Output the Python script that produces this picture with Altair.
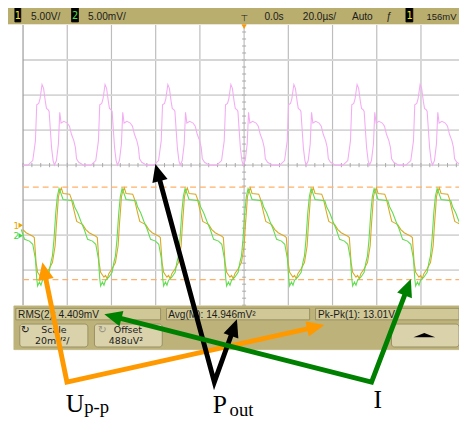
import math
import altair as alt
import pandas as pd

# ---------------- oscilloscope screen: time in µs (20 µs/div), amplitude in divisions ----------------
grid_time = [-80, -60, -40, -20, 0, 20, 40, 60, 80]
grid_level = [-3, -2, -1, 0, 1, 2, 3]
minor_time = [-100 + 4 * i for i in range(51)]
minor_level = [-4 + 0.2 * i for i in range(41)]
cursor_levels = [-0.63, -3.27]

# Math (pink) trace: one pulse pair, time relative to its main peak
pink_dt = [-6.4, -4.2, -3.0, -2.4, -1.5, -0.9, 0.0, 0.7, 1.5, 2.0, 2.8, 3.2, 3.7, 4.3, 5.0,
           5.6, 6.5, 7.4, 8.0, 8.6, 9.9, 11.4, 12.4, 13.3, 14.4, 15.1, 15.6, 16.6, 18.8]
pink_val = [0.0, 0.13, 0.69, 1.72, 1.76, 1.90, 2.30, 2.19, 1.81, 1.62, 1.58, 1.53, 1.06, 0.50, 0.13,
            0.0, 0.13, 0.60, 1.51, 1.20, 1.25, 1.20, 1.11, 0.88, 0.69, 0.50, 0.18, 0.08, 0.0]
pink_peaks = [-119.9, -91.4, -62.9, -34.5, -6.0, 22.5, 51.1, 79.6]
pink_edges_t = [-100.0, 100.5]
pink_edges_v = [0.0, 0.0]

# Channel 2 (green) trace, time relative to its peak
green_dt = [0.0, 0.6, 1.8, 6.2, 7.0, 8.4, 9.9, 11.4, 12.9, 15.1, 16.6, 17.8, 18.4, 18.8, 19.6,
            20.3, 21.0, 22.5, 24.0, 24.8, 25.5, 26.2, 27.0, 27.7]
green_val = [-0.67, -0.76, -0.98, -1.02, -1.19, -1.36, -1.61, -1.84, -2.12, -2.17, -2.26, -2.68,
             -3.24, -3.45, -3.34, -3.43, -3.29, -3.20, -3.06, -2.78, -2.59, -2.12, -1.36, -0.90]
green_peaks = [-112.2, -83.7, -55.2, -26.7, 1.8, 30.3, 58.8, 87.3]

# Channel 1 (orange) trace, time relative to the green peak
orange_dt = [0.2, 1.0, 1.8, 4.8, 5.5, 7.0, 8.0, 9.2, 10.7, 12.1, 13.6, 16.6, 17.3, 18.1, 18.8,
             20.3, 21.0, 21.8, 22.5, 24.0, 25.5, 26.7, 27.3, 27.8, 28.2]
orange_val = [-0.77, -0.65, -0.81, -0.83, -0.95, -1.36, -1.61, -1.65, -1.70, -1.84, -1.93, -2.03,
              -2.07, -2.78, -3.06, -3.20, -3.15, -3.24, -3.10, -2.96, -2.78, -2.31, -1.70, -1.28, -0.91]


def periodic(peaks, dts, vals, extra_t=(), extra_v=()):
    pts = [(t, v) for t, v in zip(extra_t, extra_v)]
    for p in peaks:
        for dt, v in zip(dts, vals):
            t = p + dt
            if -101 <= t <= 101:
                pts.append((t, v))
    pts.sort()
    return pd.DataFrame({"t": [p[0] for p in pts], "v": [p[1] for p in pts], "i": range(len(pts))})


pink_df = periodic(pink_peaks, pink_dt, pink_val, pink_edges_t, pink_edges_v)
green_df = periodic(green_peaks, green_dt, green_val)
orange_df = periodic(green_peaks, orange_dt, orange_val)

sx = alt.Scale(domain=[-100, 100], range=[23.3, 473.3], nice=False, zero=False)
sy = alt.Scale(domain=[-4, 4], range=[306.8, 21.6], nice=False, zero=False)


def SX(f):
    return alt.X(f, type="quantitative", scale=sx, axis=None)


def SY(f):
    return alt.Y(f, type="quantitative", scale=sy, axis=None)


vgrid = alt.Chart(pd.DataFrame({"t": grid_time, "a": -4, "b": 4})).mark_rule(
    color="#bdbdbd", strokeWidth=1.2).encode(x=SX("t"), y=SY("a"), y2="b")
hgrid = alt.Chart(pd.DataFrame({"v": grid_level, "a": -100, "b": 103})).mark_rule(
    color="#d6d6d6", strokeWidth=1.8).encode(y=SY("v"), x=SX("a"), x2="b")
border = alt.Chart(pd.DataFrame({"t": [-100], "a": -4, "b": 4})).mark_rule(
    color="#9a9a9a", strokeWidth=1.2).encode(x=SX("t"), y=SY("a"), y2="b")
hticks = alt.Chart(pd.DataFrame({"t": minor_time, "a": -0.06, "b": 0.06})).mark_rule(
    color="#a8a8a8", strokeWidth=1).encode(x=SX("t"), y=SY("a"), y2="b")
vticks = alt.Chart(pd.DataFrame({"v": minor_level, "a": -0.9, "b": 0.9})).mark_rule(
    color="#a8a8a8", strokeWidth=1).encode(y=SY("v"), x=SX("a"), x2="b")
cursors = alt.Chart(pd.DataFrame({"v": cursor_levels, "a": -100, "b": 103})).mark_rule(
    color="#ffb066", strokeWidth=1.2, strokeDash=[6, 4]).encode(y=SY("v"), x=SX("a"), x2="b")

pink = alt.Chart(pink_df).mark_line(color="#f3aef3", strokeWidth=1.1).encode(
    x=SX("t"), y=SY("v"), order="i:Q")
orange = alt.Chart(orange_df).mark_line(color="#dba824", strokeWidth=1.1).encode(
    x=SX("t"), y=SY("v"), order="i:Q")
green = alt.Chart(green_df).mark_line(color="#62dc50", strokeWidth=1.1).encode(
    x=SX("t"), y=SY("v"), order="i:Q")

scope = alt.layer(vgrid, hgrid, hticks, vticks, border, cursors, pink, orange, green)

# ---------------- screen chrome and annotations (screen pixels) ----------------
px = alt.Scale(domain=[0, 467], range=[0, 467], nice=False, zero=False)
py = alt.Scale(domain=[0, 423], range=[0, 423], nice=False, zero=False)


def PX(f):
    return alt.X(f, type="quantitative", scale=px, axis=None)


def PY(f):
    return alt.Y(f, type="quantitative", scale=py, axis=None)


panel_x = [0, 14, 16, 169.3, 321, 15, 72.7, 413, 428.3]
panel_x2 = [467, 467, 163.3, 315, 467, 21, 79.7, 420, 435]
panel_y = [0, 307.5, 310, 310, 310, 2, 2, 2, 339.3]
panel_y2 = [20.5, 352, 321.7, 321.7, 321.7, 18.5, 18.5, 18.5, 342]
panel_fill = ["#b9ae6e", "#bdb37a", "#d0c896", "#d0c896", "#d0c896", "#000000", "#000000", "#000000", "#000000"]
panel_stroke = ["#b9ae6e", "#bdb37a", "#8c855a", "#8c855a", "#8c855a", "#000000", "#000000", "#000000", "#000000"]

button_x = [20, 96, 398.3]
button_x2 = [89.3, 165, 467]
button_y = [326, 326, 326]
button_y2 = [349.3, 349.3, 349.3]

panels = alt.Chart(pd.DataFrame({"x": panel_x, "x2": panel_x2, "y": panel_y, "y2": panel_y2,
                                 "f": panel_fill, "s": panel_stroke})).mark_rect(strokeWidth=0.8).encode(
    x=PX("x"), x2="x2", y=PY("y"), y2="y2",
    fill=alt.Fill("f:N", scale=None), stroke=alt.Stroke("s:N", scale=None))
buttons = alt.Chart(pd.DataFrame({"x": button_x, "x2": button_x2, "y": button_y, "y2": button_y2})).mark_rect(
    fill="#d9d2ab", stroke="#8c855a", strokeWidth=0.8, cornerRadius=3).encode(
    x=PX("x"), x2="x2", y=PY("y"), y2="y2")

sans_left_text = ["5.00V/", "5.00mV/", "0.0s", "20.0µs/", "Auto", "ƒ", "156mV",
                  "RMS(2): 4.409mV", "Avg(M): 14.946mV²", "Pk-Pk(1): 13.01V"]
sans_left_x = [31.5, 89.5, 269, 308, 358, 393, 434, 18.3, 171, 323.5]
sans_left_y = [17, 17, 17, 17, 17, 17, 17, 319.5, 319.5, 319.5]
sans_left_s = [10.3, 10.3, 10.3, 10.3, 10.3, 10.3, 9.6, 10.3, 10.3, 10.3]
sans_left = alt.Chart(pd.DataFrame({"x": sans_left_x, "y": sans_left_y, "t": sans_left_text,
                                    "s": sans_left_s})).mark_text(
    align="left", baseline="alphabetic", font="Liberation Sans", color="#1c1c1c").encode(
    x=PX("x"), y=PY("y"), text="t:N", size=alt.Size("s:Q", scale=None))

sans_center_text = ["Scale", "20mV²/", "Offset", "488uV²", "↻", "↻", "1", "2", "1", "⊤", "1", "2"]
sans_center_x = [54.7, 53, 130, 128, 25.5, 104, 18, 76.2, 416.7, 248.5, 16.5, 16.5]
sans_center_y = [335.5, 346, 335.5, 346, 335.5, 335.5, 15.5, 15.5, 15.5, 18, 229, 239.5]
sans_center_c = ["#1c1c1c", "#1c1c1c", "#1c1c1c", "#1c1c1c", "#1c1c1c", "#9a9580", "#f2e21e", "#46e046",
                 "#f2e21e", "#1c1c1c", "#e8a800", "#3ed83e"]
sans_center_s = [9.6, 9.6, 9.6, 9.6, 11, 11, 10, 10, 10, 9, 9, 9]
sans_center = alt.Chart(pd.DataFrame({"x": sans_center_x, "y": sans_center_y, "t": sans_center_text,
                                      "c": sans_center_c, "s": sans_center_s})).mark_text(
    align="center", baseline="alphabetic", font="DejaVu Sans").encode(
    x=PX("x"), y=PY("y"), text="t:N", color=alt.Color("c:N", scale=None), size=alt.Size("s:Q", scale=None))

marker_x = [248.3, 21, 21]
marker_y = [23.5, 225.5, 236]
marker_c = ["#ff9900", "#e8a800", "#3ed83e"]
marker_shape = ["triangle-down", "triangle-right", "triangle-right"]
markers = alt.Chart(pd.DataFrame({"x": marker_x, "y": marker_y, "c": marker_c, "sh": marker_shape})).mark_point(
    filled=True, size=28, opacity=1).encode(
    x=PX("x"), y=PY("y"), color=alt.Color("c:N", scale=None), shape=alt.Shape("sh:N", scale=None))

up_icon = alt.Chart(pd.DataFrame({"x": [431.7], "y": [337.2]})).mark_point(
    filled=True, opacity=1, color="#000000", size=484, shape="M0,-0.2L1,0.2L-1,0.2Z").encode(
    x=PX("x"), y=PY("y"))

# arrows: vertex near label, two tips each
arrow_color = ["#ff9900", "#000000", "#008000"]
vertex_x = [68, 218, 378]
vertex_y = [385, 385, 385]
tip_a_x = [43, 158, 418]
tip_a_y = [263, 163, 280]
tip_b_x = [330, 241, 106]
tip_b_y = [327, 321, 316]

line_rows, head_rows = [], []
for k in range(3):
    vx, vy = vertex_x[k], vertex_y[k]
    pts = []
    for tx, ty in ((tip_a_x[k], tip_a_y[k]), (tip_b_x[k], tip_b_y[k])):
        dx, dy = tx - vx, ty - vy
        L = math.hypot(dx, dy)
        ux, uy = dx / L, dy / L
        pts.append((tx - 12 * ux, ty - 12 * uy))
        ang = math.degrees(math.atan2(dx, -dy)) % 360
        head_rows.append({"x": tx, "y": ty, "a": ang, "c": arrow_color[k]})
    for j, (x, y) in enumerate([pts[0], (vx, vy), pts[1]]):
        line_rows.append({"x": x, "y": y, "o": j, "g": k, "c": arrow_color[k]})

arrow_lines = alt.Chart(pd.DataFrame(line_rows)).mark_line(strokeWidth=5, strokeJoin="miter").encode(
    x=PX("x"), y=PY("y"), order="o:Q", detail="g:N", color=alt.Color("c:N", scale=None))
arrow_heads = alt.Chart(pd.DataFrame(head_rows)).mark_point(
    filled=True, opacity=1, size=400, shape="M0,0L0.8,1.8L-0.8,1.8Z").encode(
    x=PX("x"), y=PY("y"), angle=alt.Angle("a:Q", scale=None), color=alt.Color("c:N", scale=None))

serif_text = ["U", "p-p", "P", "out", "I"]
serif_x = [66.7, 85.5, 216.5, 233.5, 380]
serif_y = [415, 417, 416.7, 420, 411.7]
serif_s = [26, 19, 26, 19, 26]
serif = alt.Chart(pd.DataFrame({"x": serif_x, "y": serif_y, "t": serif_text, "s": serif_s})).mark_text(
    align="left", baseline="alphabetic", font="Liberation Serif", color="#000000").encode(
    x=PX("x"), y=PY("y"), text="t:N", size=alt.Size("s:Q", scale=None))

overlay = alt.layer(panels, buttons, sans_left, sans_center, markers, up_icon,
                    arrow_lines, arrow_heads, serif)

chart = alt.layer(scope, overlay).resolve_scale(x="independent", y="independent").properties(
    width=467, height=423,
    padding={"left": -8, "top": -8, "right": 0, "bottom": 0},
    autosize=alt.AutoSizeParams(type="none"),
    background="white",
).configure_view(strokeWidth=0)

chart.save("out.html", embed_options={"renderer": "svg", "actions": False})
